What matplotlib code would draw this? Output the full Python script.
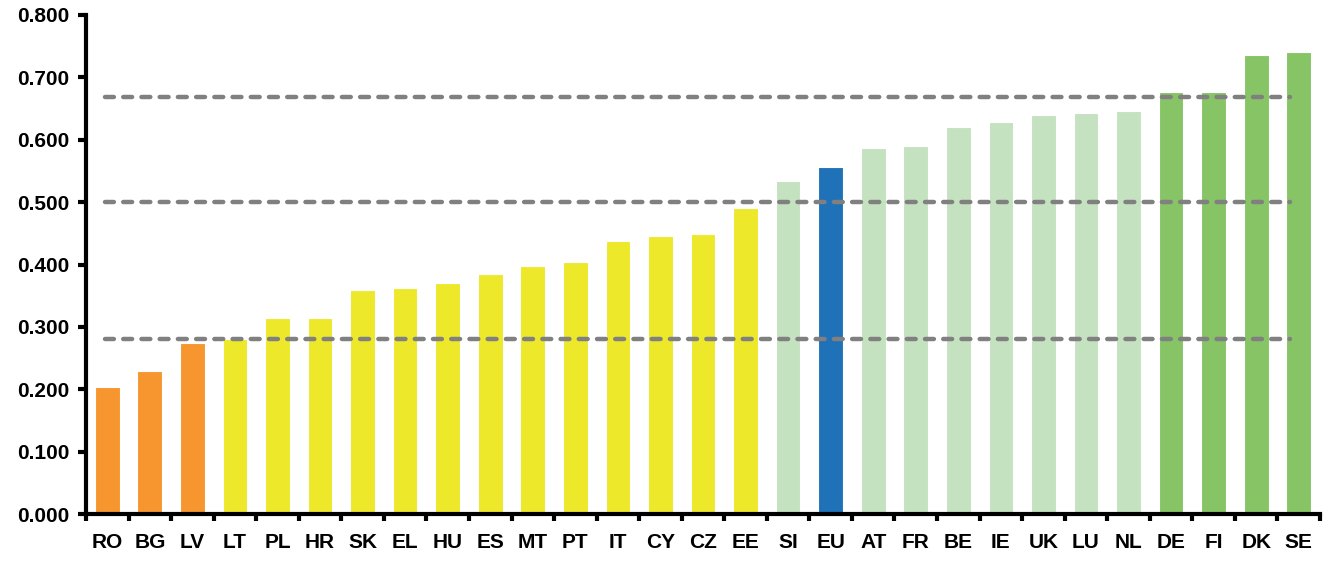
import matplotlib
matplotlib.use('Agg')
import matplotlib.pyplot as plt
import numpy as np

# values
countries = ['RO','BG','LV','LT','PL','HR','SK','EL','HU','ES','MT','PT','IT','CY','CZ','EE',
             'SI','EU','AT','FR','BE','IE','UK','LU','NL','DE','FI','DK','SE']
values = [0.203,0.229,0.274,0.280,0.314,0.314,0.359,0.362,0.370,0.385,0.397,0.404,0.437,0.445,0.449,0.490,
          0.534,0.556,0.587,0.590,0.620,0.628,0.639,0.643,0.646,0.676,0.676,0.736,0.740]
groups = ['o']*3 + ['y']*13 + ['lg'] + ['b'] + ['lg']*7 + ['g']*4
thresholds = [0.280, 0.500, 0.668]

kleur = {'o': '#F7962F', 'y': '#EDE82A', 'lg': '#C5E2C0', 'g': '#86C466', 'b': '#1F71B8'}

plt.rcParams['font.family'] = ['Liberation Sans', 'DejaVu Sans']
plt.rcParams['font.weight'] = 'bold'

fig = plt.figure(figsize=(13.28, 5.61), dpi=100)
ax = fig.add_axes([86/1328, 47/561, 1234/1328, 499/561])

x = np.arange(len(countries))
ax.bar(x, values, width=0.58, color=[kleur[g] for g in groups], edgecolor='white', linewidth=0.8, zorder=2)

for t in thresholds:
    ax.hlines(t, -0.05, 27.8, colors='#808080', linestyles=(0, (2.0, 2.1)), linewidth=3.2,
              capstyle='round', zorder=3)

ax.set_xlim(-0.5, len(countries) - 0.5)
ax.set_ylim(0, 0.8)
ax.set_yticks(np.arange(0, 0.81, 0.1))
ax.set_yticklabels(['%.3f' % v for v in np.arange(0, 0.81, 0.1)], fontsize=15, fontweight='bold')
ax.set_xticks(x)
ax.set_xticklabels(countries, fontsize=15, fontweight='bold')
ax.tick_params(axis='x', length=0, pad=14)
ax.set_xticks(np.arange(-0.5, len(countries), 1), minor=True)
ax.tick_params(axis='x', which='minor', length=5, width=3, direction='out')
ax.tick_params(axis='y', length=6, width=3, direction='out', pad=6)

for s in ['top', 'right']:
    ax.spines[s].set_visible(False)
ax.spines['left'].set_linewidth(3)
ax.spines['bottom'].set_linewidth(3)

fig.savefig('out.png', dpi=100)
